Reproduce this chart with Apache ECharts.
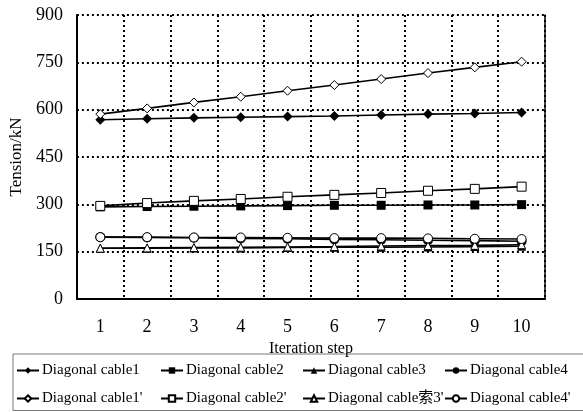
<!DOCTYPE html>
<html>
<head>
<meta charset="utf-8">
<script src="https://cdn.jsdelivr.net/npm/echarts@6/dist/echarts.min.js"></script>
<style>
  html, body { margin: 0; padding: 0; background: #fff; }
  #chart { width: 583px; height: 412px; }
</style>
</head>
<body>
<div id="chart"></div>
<script>
// Iteration steps on the x axis
const steps = ['1', '2', '3', '4', '5', '6', '7', '8', '9', '10'];

// Cable tension (kN) per iteration step
const cable1  = [568, 571, 574, 576, 578, 580, 583, 586, 588, 591];
const cable2  = [292, 293, 294, 295, 296, 297, 297, 298, 298, 299];
const cable3  = [161, 161, 162, 162, 163, 164, 164, 165, 166, 167];
const cable4  = [196, 195, 194, 192, 191, 189, 188, 186, 185, 183];
const cable1p = [586, 604, 623, 641, 660, 678, 697, 716, 734, 752];
const cable2p = [295, 304, 311, 317, 324, 330, 336, 343, 349, 356];
const cable3p = [161, 162, 163, 164, 165, 166, 168, 169, 170, 172];
const cable4p = [196, 196, 195, 195, 194, 193, 193, 192, 191, 190];

const seriesNames = [
  'Diagonal cable1', 'Diagonal cable2', 'Diagonal cable3', 'Diagonal cable4',
  "Diagonal cable1'", "Diagonal cable2'", "Diagonal cable索3'", "Diagonal cable4'"
];

const FONT = "'Liberation Serif', 'Times New Roman', 'Noto Sans CJK SC', serif";

function lineSeries(name, data, symbol, size, filled) {
  return {
    name: name,
    type: 'line',
    data: data,
    symbol: symbol,
    symbolSize: size,
    showAllSymbol: true,
    lineStyle: { color: '#000', width: 1.6 },
    itemStyle: {
      color: filled ? '#000' : '#fff',
      borderColor: '#000',
      borderWidth: filled ? 0 : 1
    },
    emphasis: { disabled: true },
    animation: false
  };
}

const series = [
  lineSeries(seriesNames[0], cable1, 'diamond', 10, true),
  lineSeries(seriesNames[1], cable2, 'rect', 9, true),
  lineSeries(seriesNames[2], cable3, 'triangle', 9, true),
  lineSeries(seriesNames[3], cable4, 'circle', 10, true),
  lineSeries(seriesNames[4], cable1p, 'diamond', 9, false),
  lineSeries(seriesNames[5], cable2p, 'rect', 9, false),
  lineSeries(seriesNames[6], cable3p, 'triangle', 8, false),
  lineSeries(seriesNames[7], cable4p, 'circle', 9, false)
];

// Legend laid out as a 4 x 2 table
const colLeft = [16, 160, 302, 444];
const rowTop = [363, 391];
const legends = seriesNames.map(function (name, i) {
  return {
    data: [name],
    left: colLeft[i % 4],
    top: rowTop[Math.floor(i / 4)],
    padding: 0,
    itemWidth: 22,
    itemHeight: 8,
    itemGap: 0,
    selectedMode: false,
    textStyle: { fontFamily: FONT, fontSize: 15, color: '#000', padding: [0, 0, 0, -2] }
  };
});

const chart = echarts.init(document.getElementById('chart'), null, { renderer: 'canvas' });
chart.setOption({
  animation: false,
  backgroundColor: '#fff',
  textStyle: { fontFamily: FONT },
  grid: { left: 70.5, right: 38, top: 15, bottom: 113, containLabel: false },
  legend: legends,
  graphic: [{
    type: 'rect',
    shape: { x: 13, y: 354, width: 585, height: 56.5 },
    style: { fill: null, stroke: '#777', lineWidth: 1 },
    silent: true
  }],
  xAxis: {
    type: 'category',
    data: steps,
    boundaryGap: true,
    name: 'Iteration step',
    nameLocation: 'middle',
    nameGap: 36,
    nameTextStyle: { fontFamily: FONT, fontSize: 16, color: '#000' },
    axisLine: { lineStyle: { color: '#000', width: 2 } },
    axisTick: { show: false },
    axisLabel: { fontFamily: FONT, fontSize: 18, color: '#000', margin: 19 },
    splitLine: { show: true, lineStyle: { color: '#000', type: [2, 3], width: 2 } }
  },
  yAxis: [{
    type: 'value',
    min: 0,
    max: 900,
    interval: 150,
    name: 'Tension/kN',
    nameLocation: 'middle',
    nameGap: 45,
    nameTextStyle: { fontFamily: FONT, fontSize: 17, color: '#000' },
    axisLine: { show: true, lineStyle: { color: '#000', width: 2 } },
    axisTick: { show: false },
    axisLabel: { fontFamily: FONT, fontSize: 18, color: '#000', margin: 14 },
    splitLine: { show: true, lineStyle: { color: '#000', type: [2, 3], width: 2 } }
  }, {
    type: 'value',
    position: 'right',
    min: 0,
    max: 900,
    interval: 150,
    axisLine: { show: true, lineStyle: { color: '#000', width: 1.5 } },
    axisTick: { show: false },
    axisLabel: { show: false },
    splitLine: { show: false }
  }],
  series: series
});
</script>
</body>
</html>
